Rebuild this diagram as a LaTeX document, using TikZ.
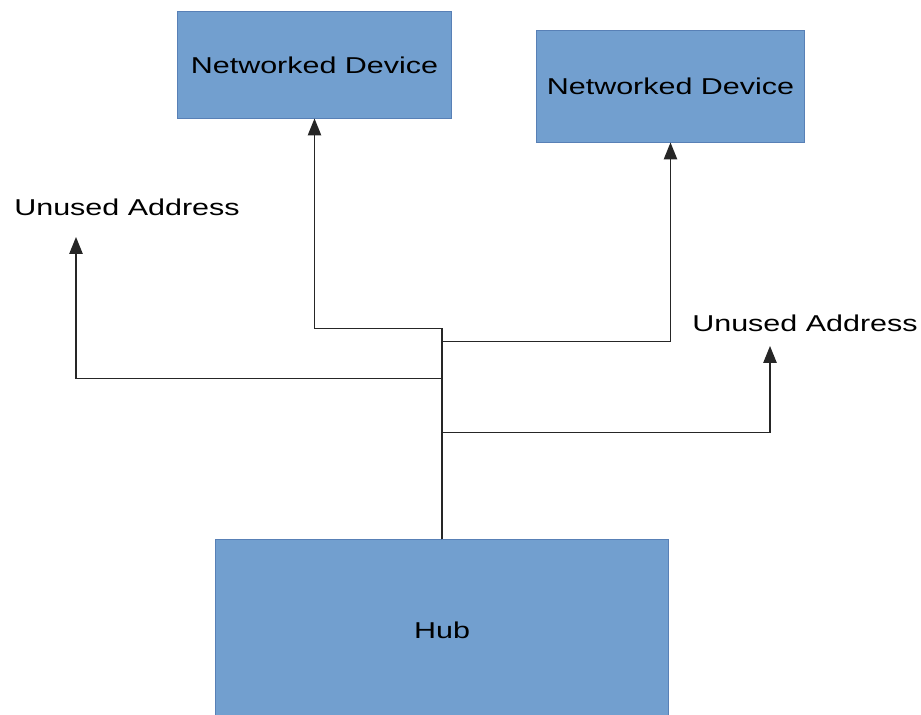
\documentclass[tikz,border=0pt]{standalone}
\usepackage{fontspec}
\setmainfont{Liberation Sans}[FakeStretch=1.33]
\usetikzlibrary{arrows.meta}
\definecolor{boxfill}{RGB}{114,159,207}
\definecolor{boxline}{RGB}{88,128,182}
\tikzset{
    device/.style={draw=boxline, fill=boxfill, line width=0.7pt, inner sep=0pt,
        font=\fontsize{16.3}{19}\selectfont},
    label/.style={inner sep=0pt, font=\fontsize{16.3}{19}\selectfont},
    link/.style={line width=0.9pt, draw=black!85, -{Triangle[length=12pt,width=9.5pt]}}
}
\begin{document}
\begin{tikzpicture}[x=0.025cm, y=-0.025cm]
    \useasboundingbox (0,0) rectangle (921,715);

    % Boxes
    \node[device, minimum width=6.825cm, minimum height=2.65cm] (dev1) at (314.5,65) {Networked Device};
    \node[device, minimum width=6.675cm, minimum height=2.775cm] (dev2) at (670.5,86.5) {Networked Device};
    \node[device, minimum width=11.3cm, minimum height=4.5cm] (hub) at (442,630) {Hub};

    % Free addresses
    \node[label] (ua1) at (127,207) {Unused Address};
    \node[label] (ua2) at (805,323) {Unused Address};
    \coordinate (ua1tip) at (76,237);
    \coordinate (ua2tip) at (770,346);

    % Connections from the hub
    \foreach \rise/\target in {211/dev1.south, 198/dev2.south, 161/ua1tip, 107/ua2tip} {
        \draw[link] (hub.north) -- ++(0,-\rise) -| (\target);
    }
\end{tikzpicture}
\end{document}
